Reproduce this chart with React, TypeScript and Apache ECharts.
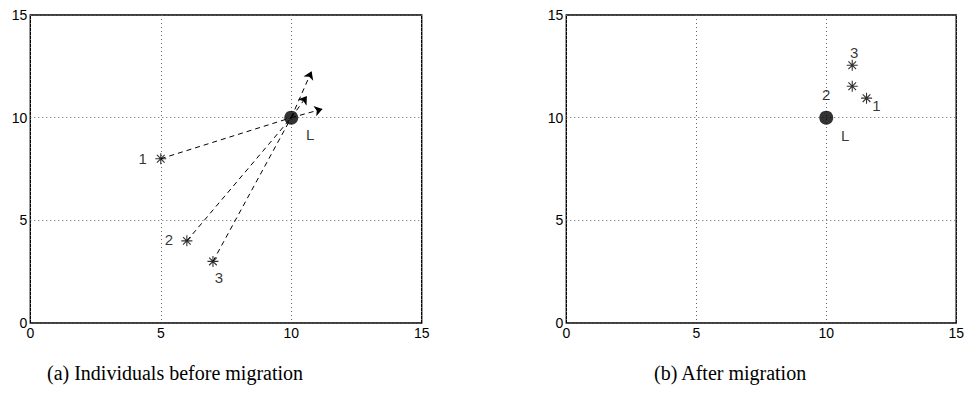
import React, { useEffect, useRef } from "react";
import * as echarts from "echarts";

// ---- data ----
const axisTicks = [0, 5, 10, 15];
const leaderPos = [10, 10];
const beforePoints = [[5, 8], [6, 4], [7, 3]];
const beforeLabels = ["1", "2", "3"];
const arrowTips = [[11.2, 10.42], [10.6, 11.05], [10.78, 12.26]];
const afterPoints = [[11.55, 10.95], [11, 11.53], [11, 12.55]];
const afterLabels = ["1", "", "3"];
const leaderLabelBefore = "L";
const leaderLabelsAfter = ["2", "L"];
const captions = ["(a) Individuals before migration", "(b) After migration"];

// ---- styles (label centre offsets from the marker centre) ----
const beforeLabelOffsets = [[-18, 0], [-18, -1], [6, 17]];
const afterLabelOffsets = [[10, 8], [0, 0], [2, -12]];

const STAR = "path://M5,0L5,10M0,5L10,5M1.5,1.5L8.5,8.5M1.5,8.5L8.5,1.5";
const SANS = "Liberation Sans, Arial, sans-serif";
const LABEL_H = 17;

function makeAxis(idx: number) {
  return {
    type: "value",
    gridIndex: idx,
    min: axisTicks[0],
    max: axisTicks[axisTicks.length - 1],
    interval: axisTicks[1] - axisTicks[0],
    axisLine: { show: false },
    axisTick: { show: false },
    axisLabel: { color: "#000", fontSize: 14, fontFamily: SANS, margin: 3 },
    splitLine: { show: true, lineStyle: { color: "#666", type: [1, 3], width: 1 } },
  };
}

function lbl(text: string, off: number[], symSize: number) {
  // position "top" with distance 0: label centre sits symSize/2 + LABEL_H/2 above marker centre
  return {
    show: true,
    position: "top",
    distance: 0,
    color: "#000",
    fontSize: 15,
    lineHeight: LABEL_H,
    fontFamily: SANS,
    formatter: text,
    offset: [off[0], off[1] + symSize / 2 + LABEL_H / 2],
  };
}

export default function App() {
  const ref = useRef<HTMLDivElement>(null);
  useEffect(() => {
    if (!ref.current) return;
    const chart = echarts.init(ref.current, null, { renderer: "svg" });
    const starStyle = { color: "transparent", borderColor: "#000", borderWidth: 1.1 };
    const segToLeader = beforePoints.map((p) => ({ coords: [p, leaderPos] }));
    const segToTip = arrowTips.map((t) => ({ coords: [leaderPos, t] }));

    chart.setOption({
      animation: false,
      grid: [
        { left: 30.3, top: 15, width: 391.4, height: 308, show: true, borderColor: "#000", borderWidth: 1.4, backgroundColor: "#fff" },
        { left: 566.3, top: 15, width: 391, height: 308, show: true, borderColor: "#000", borderWidth: 1.4, backgroundColor: "#fff" },
      ],
      xAxis: [makeAxis(0), makeAxis(1)],
      yAxis: [makeAxis(0), makeAxis(1)],
      series: [
        {
          type: "lines",
          coordinateSystem: "cartesian2d",
          xAxisIndex: 0,
          yAxisIndex: 0,
          symbol: ["none", "none"],
          lineStyle: { color: "#000", width: 1, type: [5, 4], opacity: 1 },
          data: segToLeader,
          z: 3,
        },
        {
          type: "lines",
          coordinateSystem: "cartesian2d",
          xAxisIndex: 0,
          yAxisIndex: 0,
          symbol: ["none", "arrow"],
          symbolSize: 8,
          lineStyle: { color: "#000", width: 1, type: [5, 4], opacity: 1 },
          data: segToTip,
          z: 3,
        },
        {
          type: "scatter",
          xAxisIndex: 0,
          yAxisIndex: 0,
          symbol: STAR,
          symbolSize: 11,
          itemStyle: starStyle,
          data: beforePoints.map((p, i) => ({ value: p, label: lbl(beforeLabels[i], beforeLabelOffsets[i], 11) })),
          z: 4,
        },
        {
          type: "scatter",
          xAxisIndex: 0,
          yAxisIndex: 0,
          symbol: "circle",
          symbolSize: 14,
          itemStyle: { color: "#000" },
          data: [{ value: leaderPos, label: lbl(leaderLabelBefore, [19, 17], 14) }],
          z: 5,
        },
        {
          type: "scatter",
          xAxisIndex: 1,
          yAxisIndex: 1,
          symbol: STAR,
          symbolSize: 11,
          itemStyle: starStyle,
          data: afterPoints.map((p, i) => ({
            value: p,
            label: afterLabels[i] ? lbl(afterLabels[i], afterLabelOffsets[i], 11) : { show: false },
          })),
          z: 4,
        },
        {
          type: "scatter",
          xAxisIndex: 1,
          yAxisIndex: 1,
          symbol: "circle",
          symbolSize: 14,
          itemStyle: { color: "#000" },
          data: [{ value: leaderPos, label: lbl(leaderLabelsAfter[0], [0, -23], 14) }],
          z: 5,
        },
        {
          type: "scatter",
          xAxisIndex: 1,
          yAxisIndex: 1,
          symbol: "circle",
          symbolSize: 14,
          itemStyle: { color: "transparent" },
          data: [{ value: leaderPos, label: lbl(leaderLabelsAfter[1], [19, 18], 14) }],
          z: 5,
        },
      ],
      graphic: [
        {
          type: "text",
          left: 47,
          top: 363,
          style: { text: captions[0], fill: "#000", font: "20px 'Liberation Serif', 'Times New Roman', serif" },
        },
        {
          type: "text",
          left: 654,
          top: 363,
          style: { text: captions[1], fill: "#000", font: "20px 'Liberation Serif', 'Times New Roman', serif" },
        },
      ],
    });
    return () => chart.dispose();
  }, []);
  return (
    <div
      ref={ref}
      style={{ position: "absolute", left: 0, top: 0, width: 967, height: 401, background: "#fff" }}
    />
  );
}
